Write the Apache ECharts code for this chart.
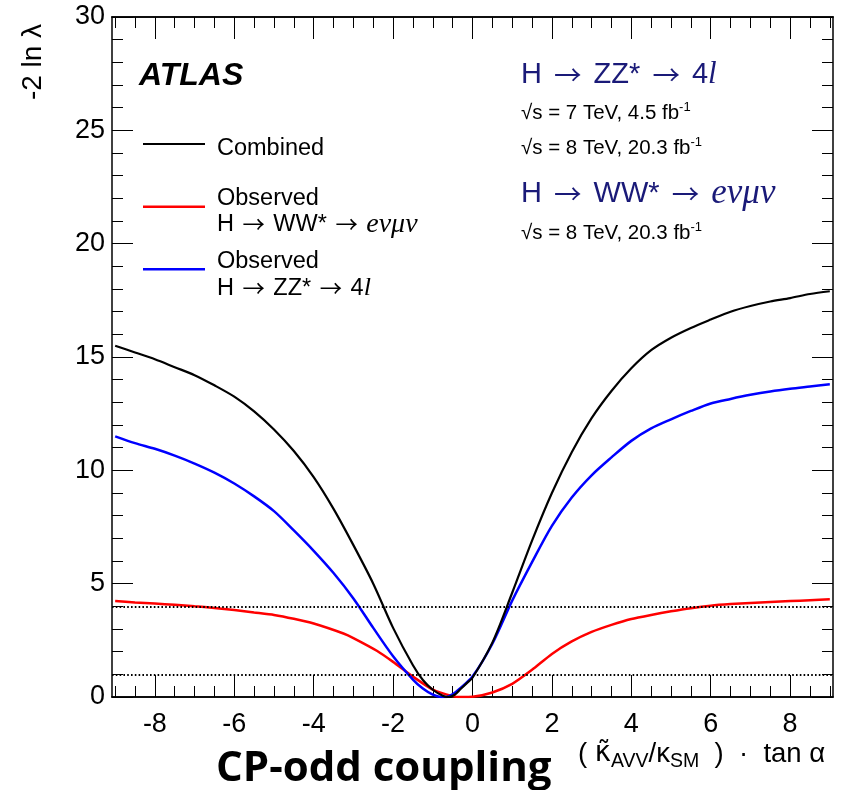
<!DOCTYPE html>
<html>
<head>
<meta charset="utf-8">
<script src="https://cdn.jsdelivr.net/npm/echarts@6/dist/echarts.min.js"></script>
<style>
html,body{margin:0;padding:0;background:#fff;}
#chart{width:848px;height:790px;}
</style>
</head>
<body>
<div id="chart"></div>
<script>
// ---------------- data ----------------
const xCombined = [-9, -8.5, -8, -7.5, -7, -6.5, -6, -5.5, -5, -4.5, -4, -3.5, -3, -2.5, -2, -1.5, -1.25, -1, -0.75, -0.6, -0.45, -0.3, -0.15, 0, 0.5, 1, 1.5, 2, 2.5, 3, 3.5, 4, 4.5, 5, 5.5, 6, 6.5, 7, 7.5, 8, 8.5, 9];
const yCombined = [15.5, 15.2, 14.9, 14.55, 14.2, 13.75, 13.25, 12.6, 11.8, 10.85, 9.7, 8.3, 6.7, 5.0, 3.05, 1.4, 0.75, 0.32, 0.06, 0.0, 0.1, 0.35, 0.6, 0.85, 2.4, 4.6, 6.9, 9.0, 10.8, 12.3, 13.5, 14.5, 15.3, 15.85, 16.28, 16.65, 17.0, 17.25, 17.45, 17.6, 17.78, 17.9];

const xWW = [-9, -8.5, -8, -7.5, -7, -6.5, -6, -5.5, -5, -4.5, -4, -3.25, -3, -2.4, -2, -1.5, -1, -0.5, -0.3, 0, 0.5, 1, 1.5, 2, 2.5, 3, 3.5, 4, 4.5, 5, 5.5, 6, 6.5, 7, 7.5, 8, 8.5, 9];
const yWW = [4.23, 4.17, 4.12, 4.07, 4.0, 3.93, 3.84, 3.73, 3.62, 3.45, 3.24, 2.8, 2.6, 2.03, 1.55, 0.9, 0.33, 0.04, 0.0, 0.01, 0.2, 0.58, 1.2, 1.9, 2.45, 2.87, 3.18, 3.44, 3.62, 3.78, 3.92, 4.03, 4.1, 4.15, 4.19, 4.23, 4.27, 4.31];

const xZZ = [-9, -8.5, -8, -7.5, -7, -6.5, -6, -5.5, -5, -4.5, -4, -3.5, -3, -2.5, -2, -1.5, -1.25, -1, -0.8, -0.65, -0.5, -0.3, 0, 0.5, 1, 1.5, 2, 2.5, 3, 3.5, 4, 4.5, 5, 5.5, 6, 6.5, 7, 7.5, 8, 8.5, 9];
const yZZ = [11.5, 11.2, 10.95, 10.65, 10.3, 9.9, 9.42, 8.85, 8.2, 7.35, 6.45, 5.47, 4.35, 3.05, 1.8, 0.77, 0.37, 0.1, 0.0, 0.0, 0.12, 0.4, 0.9, 2.35, 4.25, 5.95, 7.55, 8.8, 9.78, 10.57, 11.3, 11.85, 12.25, 12.62, 12.95, 13.15, 13.33, 13.48, 13.6, 13.7, 13.8];

const refLevels = [1, 4];

const xMajorTicks = [-8, -6, -4, -2, 0, 2, 4, 6, 8];
const xMinorTicks = [-9, -8.5, -8, -7.5, -7, -6.5, -6, -5.5, -5, -4.5, -4, -3.5, -3, -2.5, -2, -1.5, -1, -0.5, 0, 0.5, 1, 1.5, 2, 2.5, 3, 3.5, 4, 4.5, 5, 5.5, 6, 6.5, 7, 7.5, 8, 8.5, 9];
const yMajorTicks = [0, 5, 10, 15, 20, 25, 30];

// ---------------- chart ----------------
const FONT = '"Liberation Sans", Arial, Helvetica, sans-serif';
const SERIF = '"Liberation Serif", "Times New Roman", serif';
const ARROW = '"Noto Sans CJK JP", "Noto Sans CJK SC", "DejaVu Sans", sans-serif';
const NAVY = '#1a1a78';
const XMIN = -9.08, XMAX = 9.08;

function pairs(xs, ys) { return xs.map((x, i) => [x, ys[i]]); }

function xAx(position, values, len, labels) {
  return {
    type: 'value', position: position, min: XMIN, max: XMAX,
    axisLine: { show: true, onZero: false, lineStyle: { color: '#000', width: 1.5 } },
    axisTick: { show: true, inside: true, length: len, customValues: values, lineStyle: { color: '#000', width: 1 } },
    axisLabel: labels ? { show: true, customValues: xMajorTicks, fontSize: 27, fontFamily: FONT, color: '#000', margin: 14 } : { show: false },
    splitLine: { show: false }
  };
}
function yAx(position, labels) {
  return {
    type: 'value', position: position, min: yMajorTicks[0], max: yMajorTicks[yMajorTicks.length - 1], interval: 5,
    axisLine: { show: true, onZero: false, lineStyle: { color: '#000', width: 1.5 } },
    axisTick: { show: true, inside: true, length: 21, lineStyle: { color: '#000', width: 1 } },
    minorTick: { show: true, splitNumber: 5, length: 11, lineStyle: { color: '#000', width: 1 } },
    axisLabel: labels ? { show: true, fontSize: 27, fontFamily: FONT, color: '#000', margin: 7 } : { show: false },
    splitLine: { show: false }, minorSplitLine: { show: false }
  };
}

function richLine(size, iSize, color, pad) {
  return {
    n: { fontSize: size, fontFamily: FONT, fill: color, verticalAlign: 'middle' },
    r: { fontSize: size * 0.95, fontFamily: ARROW, fill: color, verticalAlign: 'middle', padding: [0, pad, 0, pad] },
    i: { fontSize: iSize, fontFamily: SERIF, fontStyle: 'italic', fill: color, verticalAlign: 'middle' }
  };
}

const chart = echarts.init(document.getElementById('chart'), null, { renderer: 'canvas' });

const sup = { fontSize: 13, fontFamily: FONT, fill: '#000', padding: [0, 0, 12, 0], verticalAlign: 'middle' };
const lumiRich = { n: { fontSize: 20.5, fontFamily: FONT, fill: '#000', verticalAlign: 'middle' }, s: sup };

function txt(x, y, text, rich, font, fill) {
  const st = { text: text, align: 'left', verticalAlign: 'middle', textAlign: 'left', textVerticalAlign: 'middle' };
  if (rich) st.rich = rich;
  if (font) st.font = font;
  if (fill) st.fill = fill;
  return { type: 'text', x: x, y: y, style: st };
}

const option = {
  animation: false,
  backgroundColor: '#fff',
  grid: { left: 112, right: 15, top: 17, bottom: 93, containLabel: false },
  xAxis: [
    xAx('bottom', xMajorTicks, 22, true),
    xAx('bottom', xMinorTicks, 11, false),
    xAx('top', xMajorTicks, 22, false),
    xAx('top', xMinorTicks, 11, false)
  ],
  yAxis: [yAx('left', true), yAx('right', false)],
  series: [
    {
      name: 'Combined', type: 'line', data: pairs(xCombined, yCombined),
      showSymbol: false, smooth: 0.3, lineStyle: { color: '#000', width: 2.2 }, z: 4,
      markLine: {
        silent: true, symbol: 'none', label: { show: false },
        lineStyle: { color: '#000', type: [1.6, 2.2], width: 1.8 },
        data: refLevels.map(v => ({ yAxis: v }))
      }
    },
    {
      name: 'Observed H → WW* → eνμν', type: 'line', data: pairs(xWW, yWW),
      showSymbol: false, smooth: 0.2, lineStyle: { color: '#ff0000', width: 2.5 }, z: 3
    },
    {
      name: 'Observed H → ZZ* → 4l', type: 'line', data: pairs(xZZ, yZZ),
      showSymbol: false, smooth: 0.3, lineStyle: { color: '#0000ff', width: 2.5 }, z: 3
    }
  ],
  graphic: [
    // y axis title
    { type: 'text', x: 33, y: 62, rotation: Math.PI / 2,
      style: { text: '-2 ln λ', font: '28px ' + FONT, fill: '#000', align: 'center', verticalAlign: 'middle', textAlign: 'center', textVerticalAlign: 'middle' } },
    // ATLAS
    txt(139, 76, 'ATLAS', null, 'italic bold 32px ' + FONT, '#000'),
    // legend
    { type: 'line', shape: { x1: 143, y1: 144, x2: 205, y2: 144 }, style: { stroke: '#000', lineWidth: 2.2 } },
    { type: 'line', shape: { x1: 143, y1: 206.7, x2: 205, y2: 206.7 }, style: { stroke: '#ff0000', lineWidth: 2.5 } },
    { type: 'line', shape: { x1: 143, y1: 269.3, x2: 205, y2: 269.3 }, style: { stroke: '#0000ff', lineWidth: 2.5 } },
    txt(217, 148.5, 'Combined', null, '23.5px ' + FONT, '#000'),
    txt(217, 198.6, 'Observed', null, '23.5px ' + FONT, '#000'),
    txt(217, 224.6, '{n|H }{r|→}{n| WW* }{r|→}{n| }{i|eνμν}', richLine(23.5, 28, '#000', 2)),
    txt(217, 261.6, 'Observed', null, '23.5px ' + FONT, '#000'),
    txt(217, 288.3, '{n|H }{r|→}{n| ZZ* }{r|→}{n| 4}{i|l}', richLine(23.5, 26, '#000', 2)),
    // top-right annotation
    txt(521, 74.6, '{n|H }{r|→}{n| ZZ* }{r|→}{n| 4}{i|l}', richLine(29, 31, NAVY, 4)),
    txt(521, 113, '{n|√s = 7 TeV, 4.5 fb}{s|-1}', lumiRich),
    txt(521, 148, '{n|√s = 8 TeV, 20.3 fb}{s|-1}', lumiRich),
    txt(521, 193.6, '{n|H }{r|→}{n| WW* }{r|→}{n| }{i|eνμν}', richLine(29, 35, NAVY, 4)),
    txt(521, 233, '{n|√s = 8 TeV, 20.3 fb}{s|-1}', lumiRich),
    // x-axis title
    txt(216, 769, 'CP-odd coupling', null, 'bold 42px "Open Sans", "Noto Sans", sans-serif', '#000'),
    txt(578, 754, '{a|( }{k|κ̃}{b|AVV}{a|/κ}{b|SM}{a|  )  ·  tan α}', {
      a: { fontSize: 27.5, fontFamily: FONT, fill: '#000', verticalAlign: 'middle' },
      k: { fontSize: 27.5, fontFamily: '"DejaVu Sans", sans-serif', fill: '#000', verticalAlign: 'middle' },
      b: { fontSize: 19.5, fontFamily: FONT, fill: '#000', padding: [15, 0, 0, 0], verticalAlign: 'middle' }
    })
  ]
};
chart.setOption(option);
</script>
</body>
</html>
